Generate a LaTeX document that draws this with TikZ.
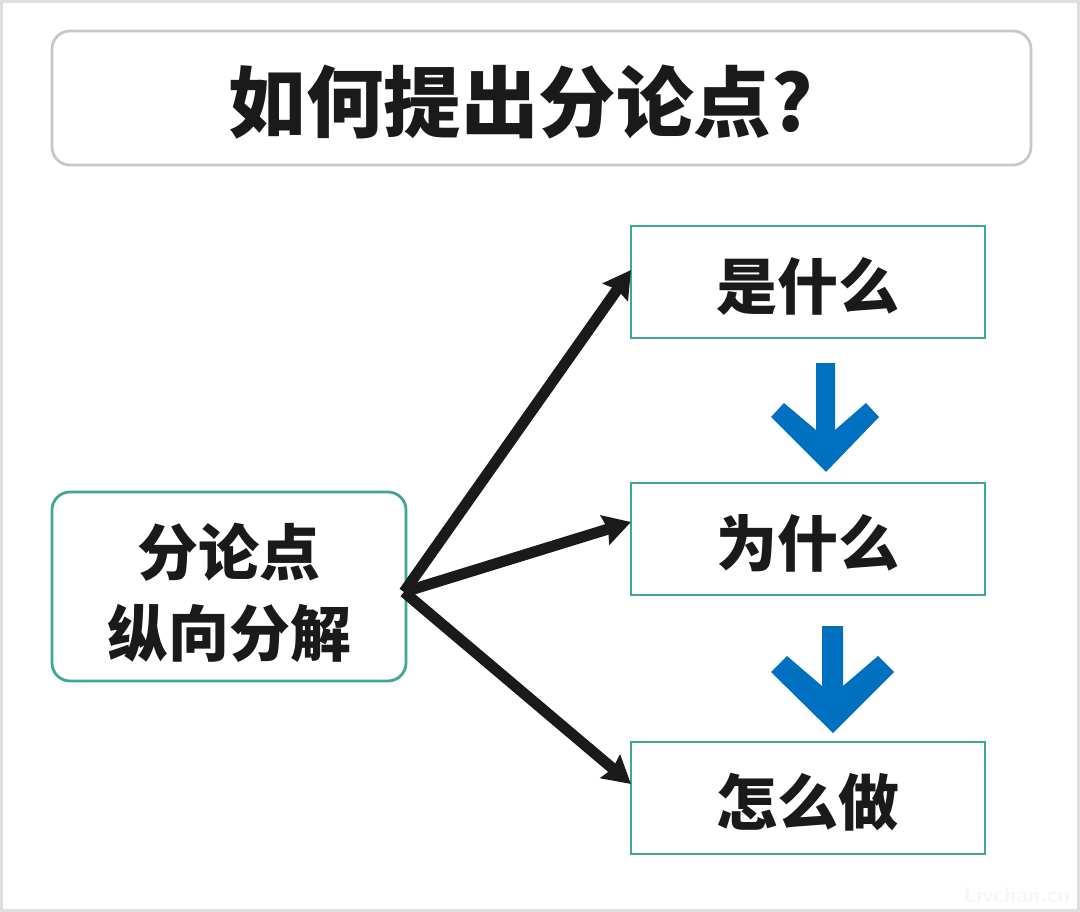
\documentclass[tikz,border=0pt]{standalone}
\usepackage{fontspec}
\usepackage{tikz}
\usetikzlibrary{arrows.meta,positioning}
\newfontfamily\cjk{Noto Sans CJK SC}
\definecolor{tealline}{HTML}{3FA796}
\definecolor{inkblack}{HTML}{1A1A1A}
\definecolor{flowblue}{HTML}{0070C0}
\tikzset{
titlebox/.style={draw=black!22,line width=2.8pt,rounded corners=18pt,outer sep=0pt,minimum width=979pt,minimum height=134pt},
titletext/.style={text=inkblack,inner sep=0pt,font=\cjk\bfseries\fontsize{77.5}{84}\selectfont},
rootbox/.style={draw=tealline,line width=2.8pt,rounded corners=18pt,outer sep=0pt,minimum width=354pt,minimum height=189pt,align=center,text=inkblack,font=\cjk\bfseries\fontsize{61}{81}\selectfont},
stepbox/.style={draw=tealline,line width=2.8pt,outer sep=0pt,minimum width=354pt,minimum height=112pt,text height=72pt,text depth=17pt,text=inkblack,font=\cjk\bfseries\fontsize{61}{66}\selectfont},
fanarrow/.style={draw=inkblack,line width=11pt,-{Stealth[length=27pt,width=30pt,inset=3pt]}},
flowarrow/.style={fill=flowblue,draw=none}
}
\begin{document}
\begin{tikzpicture}[x=1pt,y=-1pt]
\useasboundingbox (0,0) rectangle (1080,912);
\draw[black!13,line width=2.8pt] (1.4,1.4) rectangle (1078.6,910.6);
\node[titlebox] (title) at (541.5,98) {};
\node[titletext] (titlelabel) at (521,102) {如何提出分论点?};
\node[rootbox] (root) at (229,586.5) {\rule{0pt}{65pt}分论点\\纵向分解};
\node[stepbox] (what) at (808,282) {是什么};
\node[stepbox] (why) at (808,539) {为什么};
\node[stepbox] (how) at (808,798) {怎么做};
\coordinate (hub) at (404,592);
\coordinate (whatend) at (631,270);
\coordinate (whyend) at (631,522);
\coordinate (howend) at (631,784);
\draw[fanarrow] (hub) -- (whatend);
\draw[fanarrow] (hub) -- (whyend);
\draw[fanarrow] (hub) -- (howend);
\fill[flowarrow] (816,363) -- (835,363) -- (835,430) -- (866,403) -- (879,417) -- (826,472) -- (771,417) -- (784,403) -- (816,430) -- cycle;
\fill[flowarrow] (822,626) -- (843,626) -- (843,686) -- (878,656) -- (894,672) -- (833,733) -- (771,672) -- (787,656) -- (822,686) -- cycle;
\node[text=black!3,font=\sffamily\bfseries\fontsize{22}{24}\selectfont] (mark) at (1017,895) {Livchan.cn};
\end{tikzpicture}
\end{document}
